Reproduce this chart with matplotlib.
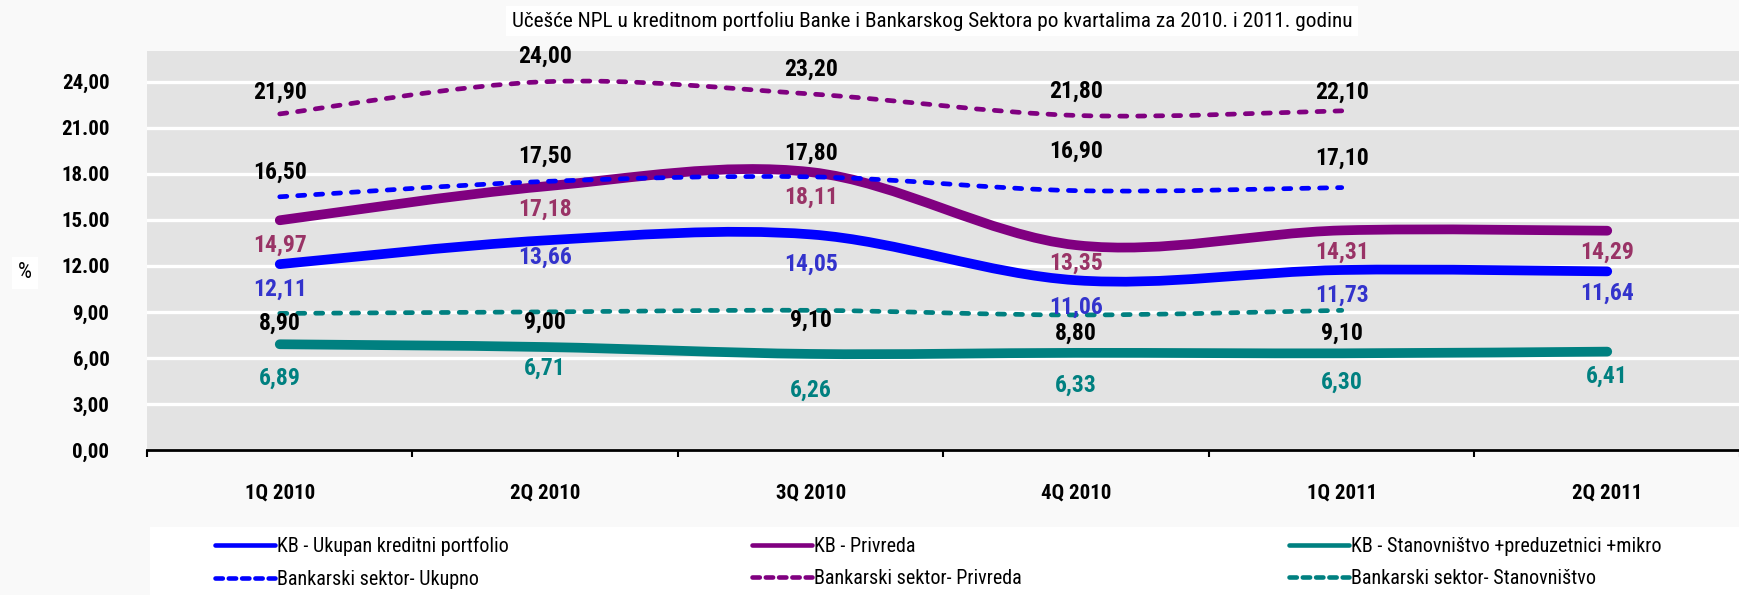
import matplotlib
matplotlib.use('Agg')
import matplotlib.pyplot as plt
from matplotlib.path import Path
from matplotlib.patches import PathPatch, Rectangle
from matplotlib.lines import Line2D
from matplotlib import font_manager
import numpy as np

# podaci (% NPL)
kvartali = ['1Q 2010', '2Q 2010', '3Q 2010', '4Q 2010', '1Q 2011', '2Q 2011']
kb_ukupno = [12.11, 13.66, 14.05, 11.06, 11.73, 11.64]
kb_privreda = [14.97, 17.18, 18.11, 13.35, 14.31, 14.29]
kb_stanovnistvo = [6.89, 6.71, 6.26, 6.33, 6.30, 6.41]
bs_ukupno = [16.50, 17.50, 17.80, 16.90, 17.10]
bs_privreda = [21.90, 24.00, 23.20, 21.80, 22.10]
bs_stanovnistvo = [8.90, 9.00, 9.10, 8.80, 9.10]

nazivi = ['KB - Ukupan kreditni portfolio', 'KB - Privreda',
          'KB - Stanovništvo +preduzetnici +mikro',
          'Bankarski sektor- Ukupno', 'Bankarski sektor- Privreda',
          'Bankarski sektor- Stanovništvo']
y_ticks = [0, 3, 6, 9, 12, 15, 18, 21, 24]
y_tick_labels = ['0,00', '3,00', '6,00', '9,00', '12.00', '15.00', '18.00', '21.00', '24,00']
naslov = 'Učešće NPL u kreditnom portfoliu Banke i Bankarskog Sektora po kvartalima za 2010. i 2011. godinu'

installed = {f.name for f in font_manager.fontManager.ttflist}
FONT = [f for f in ['Liberation Sans Narrow', 'Roboto Condensed', 'DejaVu Sans Condensed',
                    'Liberation Sans', 'DejaVu Sans'] if f in installed]
plt.rcParams['font.family'] = FONT

BLUE, PURPLE, TEAL = '#0000ff', '#800080', '#008080'


def smooth_path(y):
    # glatka linija kao u Excelu (Catmull-Rom -> Bezier)
    x = np.arange(len(y), dtype=float)
    y = np.asarray(y, dtype=float)
    n = len(y)
    verts = [(x[0], y[0])]
    codes = [Path.MOVETO]
    for i in range(n - 1):
        i0 = max(i - 1, 0)
        i3 = min(i + 2, n - 1)
        c1 = (x[i] + (x[i + 1] - x[i0]) / 6, y[i] + (y[i + 1] - y[i0]) / 6)
        c2 = (x[i + 1] - (x[i3] - x[i]) / 6, y[i + 1] - (y[i3] - y[i]) / 6)
        verts += [c1, c2, (x[i + 1], y[i + 1])]
        codes += [Path.CURVE4] * 3
    return Path(verts, codes)


fig = plt.figure(figsize=(17.4, 5.95), dpi=100)
fig.patch.set_facecolor('#f9f9f9')
ax = fig.add_axes([147 / 1740, 145 / 595, 1 - 147 / 1740, 399 / 595])
ax.set_facecolor('#e3e3e3')

# serije: (podaci, boja, stil, boja oznaka, pomak oznaka u px)
serije = [
    (kb_ukupno, BLUE, 'solid', '#3333cc', [25, 17, 30, 27, 25, 22]),
    (kb_privreda, PURPLE, 'solid', '#993366', [25, 23, 25, 18, 22, 22]),
    (kb_stanovnistvo, TEAL, 'solid', TEAL, [34, 21, 36, 32, 29, 25]),
    (bs_ukupno, BLUE, 'dashed', 'black', [-25, -25, -24, -39, -29]),
    (bs_privreda, PURPLE, 'dashed', 'black', [-22, -25, -25, -24, -19]),
    (bs_stanovnistvo, TEAL, 'dashed', 'black', [10, 10, 10, 18, 23]),
]

for vals, col, ls, lcol, offs in serije:
    if ls == 'solid':
        patch = PathPatch(smooth_path(vals), fill=False, edgecolor=col, lw=7,
                          capstyle='round', joinstyle='round', zorder=3)
    else:
        patch = PathPatch(smooth_path(vals), fill=False, edgecolor=col, lw=3.4,
                          linestyle=(0, (1.5, 2.3)), capstyle='round', zorder=4)
    ax.add_patch(patch)
    for i, v in enumerate(vals):
        ax.annotate('{:.2f}'.format(v).replace('.', ','), (i, v),
                    xytext=(0, -offs[i]), textcoords='offset pixels',
                    ha='center', va='center', fontsize=17, fontweight='bold',
                    color=lcol, zorder=6)

ax.set_xlim(-0.5, (1740 - 281) / 268)
ax.set_ylim(0, 26)

ax.set_yticks(y_ticks)
ax.set_yticklabels(y_tick_labels, fontsize=15, fontweight='bold')
ax.tick_params(axis='y', length=0, pad=27)
ax.yaxis.grid(True, color='white', lw=2.4)
ax.set_axisbelow(True)

ax.set_xticks(np.arange(len(kvartali) + 1) - 0.5)
ax.set_xticklabels([])
ax.set_xticks(np.arange(len(kvartali)), minor=True)
ax.set_xticklabels(kvartali, minor=True, fontsize=15, fontweight='bold')
ax.tick_params(axis='x', which='major', direction='out', length=5, width=1.5, color='black')
ax.tick_params(axis='x', which='minor', length=0, pad=24)

for s in ['top', 'right', 'left']:
    ax.spines[s].set_visible(False)
ax.spines['bottom'].set_linewidth(2)
ax.spines['bottom'].set_color('black')

# naslov i oznaka osi
fig.text(932 / 1740, 1 - 21 / 595, naslov, ha='center', va='center', fontsize=15.3,
         bbox=dict(facecolor='white', edgecolor='none', pad=4))
fig.text(25 / 1740, 1 - 273 / 595, '%', ha='center', va='center', fontsize=16,
         bbox=dict(facecolor='white', edgecolor='none', pad=4))

# legenda
fig.patches.append(Rectangle((150 / 1740, 0), 1 - 150 / 1740, 68 / 595,
                             transform=fig.transFigure, facecolor='white',
                             edgecolor='none', zorder=0))
ruke = [Line2D([], [], color=c, lw=3.3, ls='-' if ls == 'solid' else (0, (1.6, 1.3)),
               solid_capstyle='round', dash_capstyle='round')
        for _, c, ls, _, _ in serije]
kolone = [(215, [0, 3]), (752, [1, 4]), (1289, [2, 5])]
for x0, idx in kolone:
    fig.legend([ruke[k] for k in idx], [nazivi[k] for k in idx], loc='upper left',
               bbox_to_anchor=(x0 / 1740, 1 - 537 / 595), frameon=False,
               fontsize=14.5, handlelength=3.0, handletextpad=0.1, labelspacing=0.65,
               borderpad=0, borderaxespad=0)

fig.savefig('out.png', dpi=100, facecolor=fig.get_facecolor())
